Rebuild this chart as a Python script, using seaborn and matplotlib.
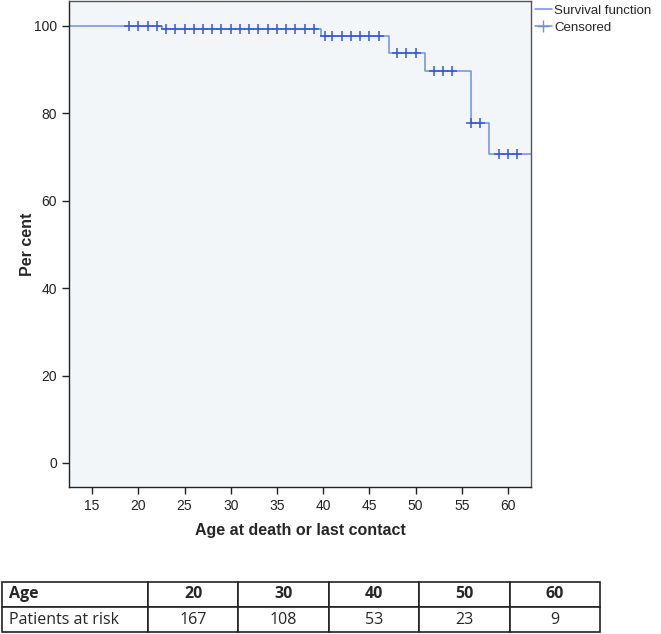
import numpy as np
import pandas as pd
import matplotlib
matplotlib.use('Agg')
import matplotlib.pyplot as plt
import seaborn as sns
from matplotlib.lines import Line2D

# survival steps (time where level starts, level in per cent)
step_times = [0, 22.6, 39.8, 47.1, 51.0, 56.0, 58.0, 62.5]
survival = [100, 99.4, 97.6, 93.8, 89.6, 77.7, 70.6, 70.6]
# censored observations
censored = [19, 20, 21, 22,
            23, 24, 25, 26, 27, 28, 29, 30, 31, 32, 33, 34, 35, 36, 37, 38, 39,
            40.2, 41, 42, 43, 44, 45, 46,
            48, 49, 50,
            52, 53, 54,
            56, 57,
            59, 60, 61]
# patients at risk table
table_ages = ['20', '30', '40', '50', '60']
at_risk = ['167', '108', '53', '23', '9']

line_col = '#6f8fe3'
mark_col = '#3556d6'

sns.set_style('ticks')
plt.rcParams['font.family'] = ['Liberation Sans', 'DejaVu Sans']

fig = plt.figure(figsize=(6.61, 6.34), dpi=100)
ax = fig.add_axes([69/661, 1-487/634, 462/661, 486/634])
ax.set_facecolor('#f3f6f9')

df = pd.DataFrame({'t': step_times, 's': survival})
sns.lineplot(data=df, x='t', y='s', drawstyle='steps-post', sort=False,
             color=line_col, linewidth=1.1, ax=ax)

idx = np.searchsorted(step_times, censored, side='right') - 1
cens_y = np.array(survival)[idx]
sns.scatterplot(x=censored, y=cens_y, marker='+', s=45, linewidth=1.1,
                color=mark_col, ax=ax, zorder=3)

ax.set_xlim(12.5, 62.5)
ax.set_ylim(-5.5, 105.7)
ax.set_xticks([15, 20, 25, 30, 35, 40, 45, 50, 55, 60])
ax.set_yticks([0, 20, 40, 60, 80, 100])
ax.tick_params(labelsize=10, length=5, width=1, colors='#222222')
for sp in ax.spines.values():
    sp.set_visible(True)
    sp.set_color('#555555')
    sp.set_linewidth(1)
ax.spines['left'].set_color('#222222')
ax.spines['bottom'].set_color('#222222')
ax.set_xlabel('Age at death or last contact', fontsize=11.5, fontweight='bold', labelpad=7)
ax.set_ylabel('Per cent', fontsize=11.5, fontweight='bold', labelpad=-1)

handles = [Line2D([], [], color=line_col, linewidth=1.1),
           Line2D([], [], color=line_col, linewidth=1.1, marker='+',
                  markersize=9, markeredgecolor=line_col)]
fig.legend(handles, ['Survival function', 'Censored'], loc='upper left',
           bbox_to_anchor=(532/661, 1 - 2/634), frameon=False, fontsize=9.5,
           handlelength=1.3, handletextpad=0.2, labelspacing=0.35,
           borderaxespad=0, borderpad=0.2)

# at-risk table
tax = fig.add_axes([2/661, 1-632/634, 598/661, 50/634])
tax.axis('off')
cells = [['Age'] + table_ages, ['Patients at risk'] + at_risk]
col_w = [146/598] + [90.4/598] * 5
tbl = tax.table(cellText=cells, colWidths=col_w, bbox=[0, 0, 1, 1], cellLoc='center')
tbl.auto_set_font_size(False)
for (r, c), cell in tbl.get_celld().items():
    cell.set_linewidth(1.2)
    cell.set_edgecolor('#222222')
    txt = cell.get_text()
    txt.set_fontsize(11.5)
    txt.set_family(['Open Sans', 'DejaVu Sans'])
    if r == 0:
        txt.set_fontweight('bold')
    if c == 0:
        txt.set_ha('left')
        cell.PAD = 0.05

fig.savefig('out.png', dpi=100)
